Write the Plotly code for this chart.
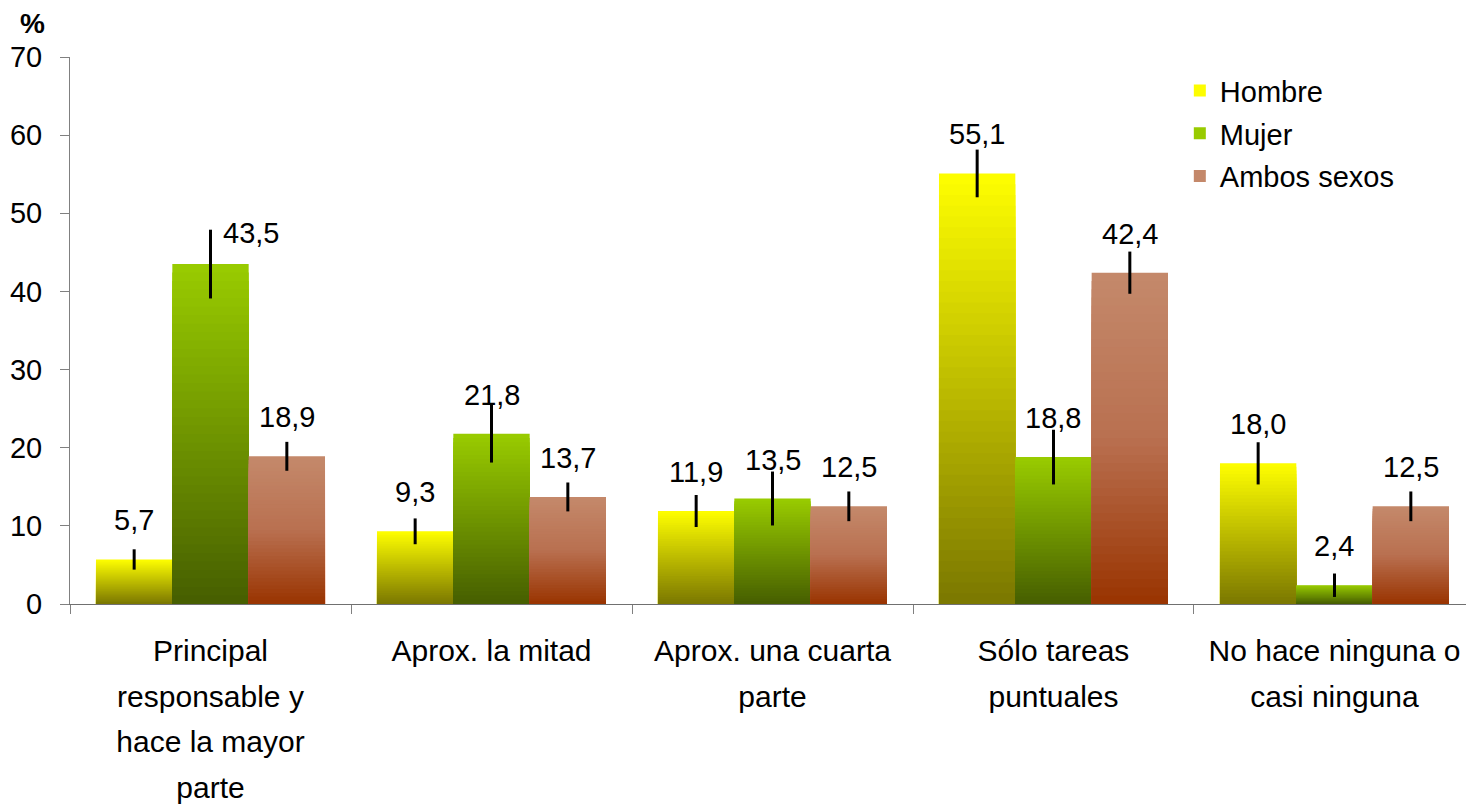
import plotly.graph_objects as go

# ---------------- data ----------------
categories = [
    "Principal<br>responsable y<br>hace la mayor<br>parte",
    "Aprox. la mitad",
    "Aprox. una cuarta<br>parte",
    "Sólo tareas<br>puntuales",
    "No hace ninguna o<br>casi ninguna",
]
series_names = ["Hombre", "Mujer", "Ambos sexos"]
hombre = [5.7, 9.3, 11.9, 55.1, 18.0]
mujer = [43.5, 21.8, 13.5, 18.8, 2.4]
ambos = [18.9, 13.7, 12.5, 42.4, 12.5]
hombre_err = [1.3, 1.65, 2.05, 3.05, 2.7]
mujer_err = [4.4, 3.7, 3.45, 3.5, 1.5]
ambos_err = [1.85, 1.85, 1.9, 2.7, 1.9]
y_ticks = [0, 10, 20, 30, 40, 50, 60, 70]

# ---------------- style ----------------
# gradient stops (position 0 = bottom of bar, 1 = top of bar)
gradients = [
    [(0.0, (122, 119, 0)), (1.0, (255, 255, 0))],
    [(0.0, (70, 94, 0)), (1.0, (153, 204, 0))],
    [(0.0, (153, 51, 0)), (0.5, (185, 112, 80)), (1.0, (196, 137, 107))],
]
N_STEPS = 40
BAR_PX = 76.3
label_shift = {(1, 0): (40, -8)}  # (series, category) -> extra (dx, dy) px

FONT = "Liberation Sans, Arial, sans-serif"


def interp(stops, t):
    for (p0, c0), (p1, c1) in zip(stops[:-1], stops[1:]):
        if p0 <= t <= p1:
            f = (t - p0) / (p1 - p0)
            c = [round(a + (b - a) * f) for a, b in zip(c0, c1)]
            return f"rgb({c[0]},{c[1]},{c[2]})"
    c = stops[-1][1]
    return f"rgb({c[0]},{c[1]},{c[2]})"


def styled_label(label, px=30):
    # glyphs at 30px while lines are spaced as for a larger font
    return "<br>".join(f"<span style='font-size:{px}px'>{ln}</span>"
                       for ln in label.split("<br>"))


fig = go.Figure()
all_vals = [hombre, mujer, ambos]
all_errs = [hombre_err, mujer_err, ambos_err]

for s, (name, vals, errs) in enumerate(zip(series_names, all_vals, all_errs)):
    stops = gradients[s]
    for k in range(N_STEPS, 0, -1):
        frac = k / N_STEPS
        fig.add_trace(go.Bar(
            x=categories,
            y=[v * frac for v in vals],
            offsetgroup=str(s),
            name=name,
            legendgroup=name,
            showlegend=(k == N_STEPS),
            marker=dict(color=interp(stops, (k - 0.5) / N_STEPS), line=dict(width=0)),
            hoverinfo="skip" if k < N_STEPS else None,
        ))
    fig.add_trace(go.Bar(
        x=categories,
        y=vals,
        offsetgroup=str(s),
        name=name,
        legendgroup=name,
        showlegend=False,
        marker=dict(color="rgba(0,0,0,0)", line=dict(width=0)),
        error_y=dict(type="data", array=errs, visible=True, color="black",
                     thickness=3, width=0),
        hoverinfo="skip",
    ))

# data labels
offsets = [-BAR_PX, 0, BAR_PX]
for s, vals in enumerate(all_vals):
    for c, (cat, v) in enumerate(zip(categories, vals)):
        dx, dy = label_shift.get((s, c), (0, 0))
        fig.add_annotation(
            x=cat, y=v, xref="x", yref="y",
            text=f"{v:.1f}".replace(".", ","),
            showarrow=False, yanchor="bottom",
            xshift=offsets[s] + dx, yshift=21 + dy,
            font=dict(family=FONT, size=29, color="black"),
        )

fig.add_annotation(
    x=-0.027, y=1, xref="paper", yref="paper",
    text="<b>%</b>", showarrow=False, xanchor="center", yanchor="bottom",
    yshift=16, font=dict(family=FONT, size=28, color="black"),
)

fig.update_layout(
    width=1466, height=806,
    margin=dict(l=70, r=0, t=57, b=202, autoexpand=False),
    paper_bgcolor="white", plot_bgcolor="white",
    barmode="group", bargap=0.185, bargroupgap=0,
    font=dict(family=FONT, size=29, color="black"),
    showlegend=True,
    legend=dict(x=0.795, y=0.985, xanchor="left", yanchor="top",
                font=dict(family=FONT, size=29, color="black"),
                bgcolor="rgba(0,0,0,0)", tracegroupgap=2),
)
fig.update_xaxes(
    type="category", range=[-0.5, 4.468], automargin=False,
    tickvals=categories, ticktext=[styled_label(c) for c in categories],
    tickson="boundaries", ticks="outside", ticklen=9, tickcolor="#808080",
    showline=True, linecolor="#707070", linewidth=1,
    showgrid=False, zeroline=False, tickangle=0,
    tickfont=dict(family=FONT, size=35, color="black"),
    ticklabelstandoff=14,
)
fig.update_yaxes(
    range=[0, 70], tickvals=y_ticks, ticktext=[str(t) for t in y_ticks],
    automargin=False,
    ticks="outside", ticklen=9, tickcolor="#808080",
    showline=True, linecolor="#808080", linewidth=1,
    showgrid=False, zeroline=False,
    tickfont=dict(family=FONT, size=29, color="black"),
    ticklabelstandoff=12,
)

fig.write_html("out.html", config={"displayModeBar": False},
               post_script="document.body.style.margin='0';")
